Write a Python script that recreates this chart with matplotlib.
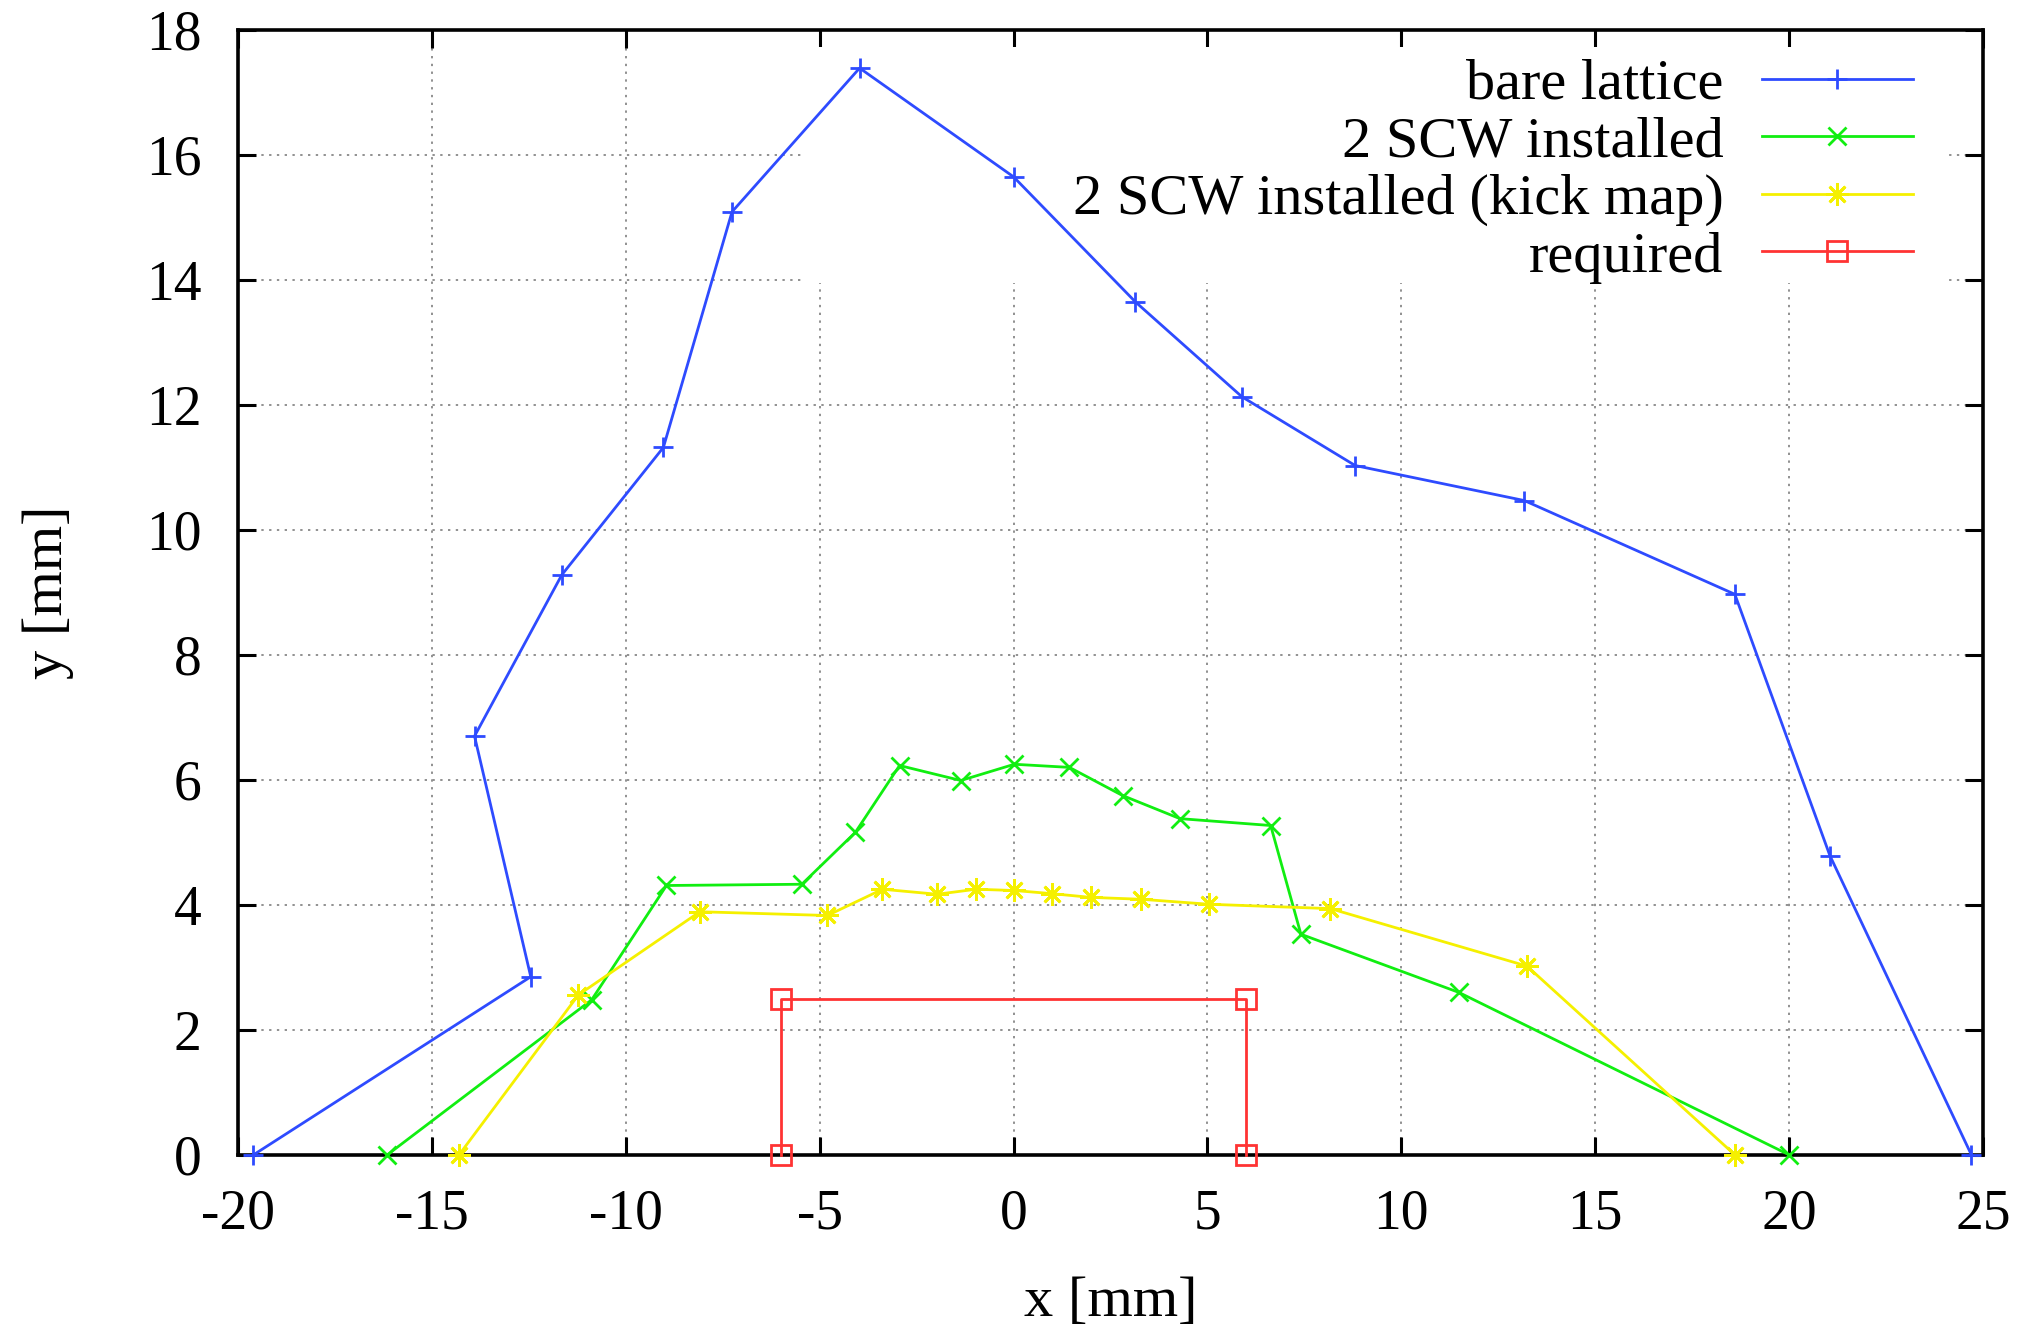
import matplotlib
matplotlib.use("Agg")
import matplotlib.pyplot as plt
from matplotlib.patches import Rectangle

plt.rcParams['font.family'] = ['Liberation Serif', 'DejaVu Serif']
plt.rcParams['axes.unicode_minus'] = False

# ---- data ----
bare_x = [-19.6, -12.45, -13.9, -11.65, -9.03, -7.26, -3.97, 0.0, 3.14, 5.89, 8.81, 13.17, 18.6, 21.05, 24.7]
bare_y = [0.0, 2.85, 6.70, 9.28, 11.32, 15.09, 17.39, 15.65, 13.65, 12.13, 11.03, 10.47, 8.97, 4.79, 0.0]

scw_x = [-16.15, -10.88, -8.95, -5.46, -4.08, -2.94, -1.36, 0.02, 1.44, 2.81, 4.29, 6.63, 7.41, 11.48, 20.0]
scw_y = [0.0, 2.48, 4.31, 4.33, 5.16, 6.23, 5.99, 6.25, 6.20, 5.75, 5.38, 5.27, 3.53, 2.60, 0.0]

kick_x = [-14.3, -11.22, -8.09, -4.80, -3.38, -1.97, -0.97, 0.02, 0.98, 1.99, 3.28, 5.04, 8.17, 13.24, 18.6]
kick_y = [0.0, 2.56, 3.89, 3.83, 4.25, 4.17, 4.25, 4.23, 4.18, 4.12, 4.09, 4.01, 3.94, 3.02, 0.0]

req_x = [-6, -6, 6, 6]
req_y = [0, 2.5, 2.5, 0]

labels = ["bare lattice", "2 SCW installed", "2 SCW installed (kick map)", "required"]
x_ticks = [-20, -15, -10, -5, 0, 5, 10, 15, 20, 25]
y_ticks = [0, 2, 4, 6, 8, 10, 12, 14, 16, 18]

fig = plt.figure(figsize=(20.41, 13.32), dpi=100)
ax = fig.add_axes([0.1166, 0.133, 0.8550, 0.8445])

FS_TICK = 40
FS_TEXT = 42
lw = 2.0
ax.plot(bare_x, bare_y, color='#2e4bff', lw=lw, marker='+', ms=14, mew=2.0, label=labels[0], clip_on=False, zorder=3)
ax.plot(scw_x, scw_y, color='#11ee11', lw=lw, marker='x', ms=13, mew=2.0, label=labels[1], clip_on=False, zorder=3)
ax.plot(kick_x, kick_y, color='#f5f000', lw=lw, marker=(8, 2, 0), ms=16, mew=2.0, label=labels[2], clip_on=False, zorder=3)
ax.plot(req_x, req_y, color='#ff3333', lw=lw, marker='s', ms=14, mew=2.0, mfc='none', label=labels[3], clip_on=False, zorder=3)

ax.set_xlim(-20, 25)
ax.set_ylim(0, 18)
ax.set_xticks(x_ticks)
ax.set_yticks(y_ticks)
ax.set_xticklabels([str(t) for t in x_ticks])
ax.set_yticklabels([str(t) for t in y_ticks])

ax.set_axisbelow(True)
ax.grid(True, color='#909090', lw=1.4, linestyle=(0, (1.2, 2.8)))

# legend background (white key box, hides grid)
ax.add_patch(Rectangle((0.324, 0.775), 0.655, 0.21, transform=ax.transAxes,
                       facecolor='white', edgecolor='none', zorder=0.7))

for s in ax.spines.values():
    s.set_linewidth(2.6)
ax.tick_params(direction='in', length=13, width=2.2, top=True, right=True,
               labelsize=FS_TICK, pad=24)
ax.tick_params(axis='y', pad=26)

ax.set_xlabel("x [mm]", fontsize=FS_TEXT, labelpad=26)
ax.set_ylabel("y [mm]", fontsize=FS_TEXT, labelpad=52)

leg = ax.legend(loc='upper right', bbox_to_anchor=(0.960, 0.975), frameon=False,
                markerfirst=False, fontsize=FS_TEXT, handlelength=2.6, handletextpad=0.65,
                labelspacing=0.08, borderpad=0.0, borderaxespad=0.0)

fig.savefig("out.png", dpi=100)
